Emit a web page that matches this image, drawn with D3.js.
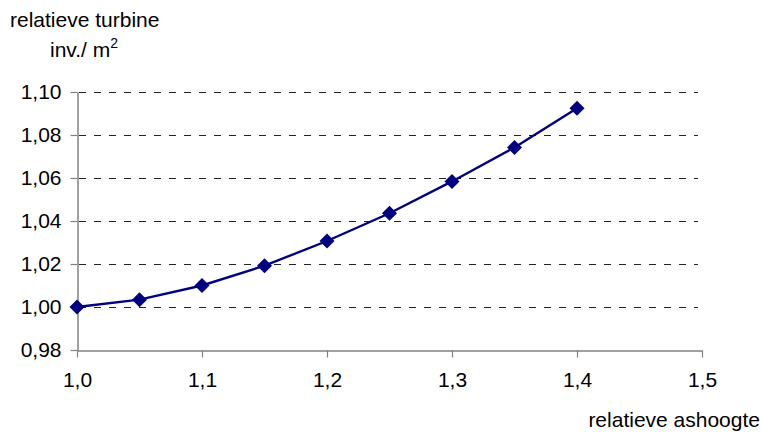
<!DOCTYPE html>
<html><head><meta charset="utf-8">
<script src="https://cdn.jsdelivr.net/npm/d3@7"></script>
<style>body{margin:0;background:#fff}svg{display:block}text{font-family:"Liberation Sans",Arial,sans-serif}</style>
</head><body>
<svg id="c" width="762" height="432"></svg>
<script>
const xValues = [1.0, 1.05, 1.1, 1.15, 1.2, 1.25, 1.3, 1.35, 1.4];
const yValues = [1.000, 1.0034, 1.0100, 1.0192, 1.0307, 1.0436, 1.0584, 1.0742, 1.0924];
const xTicks = [1.0, 1.1, 1.2, 1.3, 1.4, 1.5];
const yTicks = [0.98, 1.00, 1.02, 1.04, 1.06, 1.08, 1.10];
const yTitle1 = "relatieve turbine";
const yTitle2 = "inv./ m";
const xTitle = "relatieve ashoogte";

const svg = d3.select("#c");
const x = d3.scaleLinear().domain([1.0, 1.5]).range([77, 702]);
const y = d3.scaleLinear().domain([0.98, 1.10]).range([350, 92]);
const fmtY = d => d3.format(".2f")(d).replace(".", ",");
const fmtX = d => d3.format(".1f")(d).replace(".", ",");
const FS = 21;

// gridlines
svg.append("g").selectAll("line").data(yTicks.filter(d => d > 0.98)).join("line")
  .attr("x1", x(1.0) + 2).attr("x2", 698)
  .attr("y1", d => Math.round(y(d)) + 0.5).attr("y2", d => Math.round(y(d)) + 0.5)
  .attr("stroke", "#222").attr("stroke-width", 1).attr("stroke-dasharray", "7,8");

// y axis
const ya = svg.append("g").attr("transform", `translate(${x(1.0)+0.5},0)`)
  .call(d3.axisLeft(y).tickValues(yTicks).tickFormat(fmtY).tickSize(7).tickSizeOuter(0));
ya.select(".domain").attr("stroke", "#808080").attr("stroke-width", 1.5);
ya.selectAll(".tick line").attr("stroke", "#808080").attr("stroke-width", 1.2);
ya.selectAll(".tick text").attr("font-size", FS).attr("fill", "#000").attr("x", -16)
  .attr("font-family", "Liberation Sans, Arial, sans-serif");

// x axis
const xa = svg.append("g").attr("transform", `translate(0,${y(0.98)+0.5})`)
  .call(d3.axisBottom(x).tickValues(xTicks).tickFormat(fmtX).tickSize(7).tickSizeOuter(0));
xa.select(".domain").attr("stroke", "#808080").attr("stroke-width", 1.5);
xa.selectAll(".tick line").attr("stroke", "#808080").attr("stroke-width", 1.2);
xa.selectAll(".tick text").attr("font-size", FS).attr("fill", "#000").attr("y", 22)
  .attr("font-family", "Liberation Sans, Arial, sans-serif");

// line
const pts = xValues.map((v, i) => [v, yValues[i]]);
svg.append("path").datum(pts)
  .attr("d", d3.line().x(d => x(d[0])).y(d => y(d[1])))
  .attr("fill", "none").attr("stroke", "#000080").attr("stroke-width", 2.4);

// markers
svg.append("g").selectAll("path").data(pts).join("path")
  .attr("transform", d => `translate(${x(d[0])},${y(d[1])})`)
  .attr("d", "M0,-7.5L7.5,0L0,7.5L-7.5,0Z")
  .attr("fill", "#000080");

// titles
svg.append("text").attr("x", 10).attr("y", 27).attr("font-size", FS).text(yTitle1);
const t2 = svg.append("text").attr("x", 50).attr("y", 57).attr("font-size", FS).text(yTitle2);
t2.append("tspan").attr("font-size", 14).attr("dy", -9).text("2");
svg.append("text").attr("x", 760).attr("y", 427).attr("text-anchor", "end").attr("font-size", FS).text(xTitle);
</script>
</body></html>
